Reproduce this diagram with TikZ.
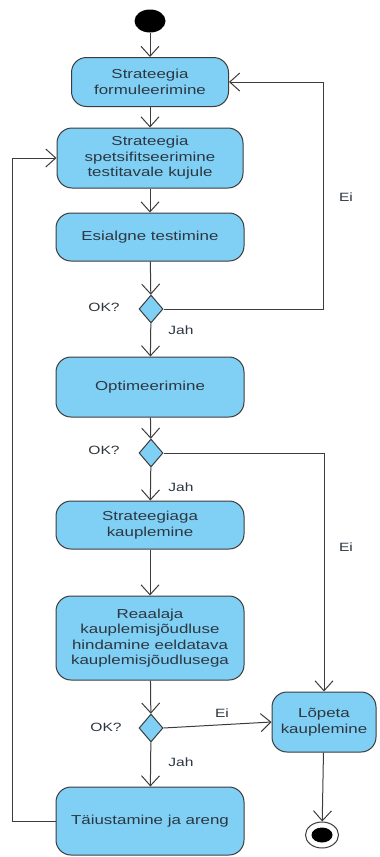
\documentclass[tikz,border=0pt]{standalone}
\usepackage{fontspec}
\setmainfont{Liberation Sans}[FakeStretch=1.3]
\usetikzlibrary{shapes,arrows.meta}
\definecolor{act_blue}{RGB}{128, 208, 245}
\definecolor{act_line}{RGB}{60, 60, 60}
\definecolor{act_text}{RGB}{45, 55, 65}
\tikzstyle{act}=[rectangle,rounded corners=15pt,fill=act_blue,draw=act_line,
  line width=1pt,align=center,text=act_text,inner sep=2pt,
  font=\fontsize{13}{15.5}\selectfont,minimum width=188pt]
\tikzstyle{dec}=[diamond,fill=act_blue,draw=act_line,line width=1pt,
  inner sep=0pt,minimum width=24pt,minimum height=28pt]
\tikzstyle{lbl}=[text=act_text,font=\fontsize{12}{14}\selectfont]
\tikzstyle{flow}=[draw=act_line,line width=1pt,
  -{Straight Barb[length=10pt,width=18pt,line width=1pt]}]

\begin{document}
\begin{tikzpicture}[x=1pt,y=-1pt]
    \useasboundingbox (0,0) rectangle (380,857);
    \node [ellipse,fill=black,minimum width=31pt,minimum height=23pt,inner sep=0pt] (start) at (150,21) {};
    \node [style=act,minimum width=157pt,minimum height=49pt] (formul) at (150,82) {Strateegia\\formuleerimine};
    \node [style=act,minimum width=186pt,minimum height=60pt] (spets) at (150,158) {Strateegia\\spetsifitseerimine\\testitavale kujule};
    \node [style=act,minimum height=48pt] (esialgne) at (150,237) {Esialgne testimine};
    \node [style=dec] (ok1) at (151,309) {};
    \node [style=act,minimum height=60pt] (optim) at (150,387) {Optimeerimine};
    \node [style=dec] (ok2) at (151,453) {};
    \node [style=act,minimum height=48pt] (kaupl) at (150,525) {Strateegiaga\\kauplemine};
    \node [style=act,minimum height=84pt] (reaal) at (150,638) {Reaalaja\\kauplemisjõudluse\\hindamine eeldatava\\kauplemisjõudlusega};
    \node [style=dec] (ok3) at (151,728) {};
    \node [style=act,minimum height=68pt] (taius) at (150,821) {Täiustamine ja areng};
    \node [style=act,minimum width=104pt,minimum height=60pt] (lopeta) at (324,722) {Lõpeta\\kauplemine};
    \node [ellipse,draw=act_line,line width=1pt,fill=white,minimum width=33pt,minimum height=26pt,inner sep=0pt] (stop) at (322,835) {};
    \node [ellipse,fill=black,minimum width=21pt,minimum height=15pt,inner sep=0pt] (stopin) at (322,835) {};
    \coordinate (eiup) at (323,82);
    \coordinate (back) at (12,158);
    \node [style=lbl] (ok1l) at (104,307) {OK?};
    \node [style=lbl] (ok2l) at (104,450) {OK?};
    \node [style=lbl] (ok3l) at (106,727) {OK?};
    \node [style=lbl] (jah1) at (181,330) {Jah};
    \node [style=lbl] (jah2) at (181,487) {Jah};
    \node [style=lbl] (jah3) at (181,762) {Jah};
    \node [style=lbl] (ei1) at (346,197) {Ei};
    \node [style=lbl] (ei2) at (346,547) {Ei};
    \node [style=lbl] (ei3) at (222,713) {Ei};
    \draw [style=flow] (start) to (formul);
    \draw [style=flow] (formul) to (spets);
    \draw [style=flow] (spets) to (esialgne);
    \draw [style=flow] (esialgne) to (ok1);
    \draw [style=flow] (ok1) to (optim);
    \draw [style=flow] (ok1.east) -| (eiup) to (formul.east);
    \draw [style=flow] (optim) to (ok2);
    \draw [style=flow] (ok2) to (kaupl);
    \draw [style=flow] (ok2.east) -| (lopeta.north);
    \draw [style=flow] (kaupl) to (reaal);
    \draw [style=flow] (reaal) to (ok3);
    \draw [style=flow] (ok3) to (taius);
    \draw [style=flow] (ok3.east) to (lopeta.west);
    \draw [style=flow] (taius.west) -| (back) to (spets.west);
    \draw [style=flow] (lopeta) to (stop);
  \end{tikzpicture}
\end{document}
